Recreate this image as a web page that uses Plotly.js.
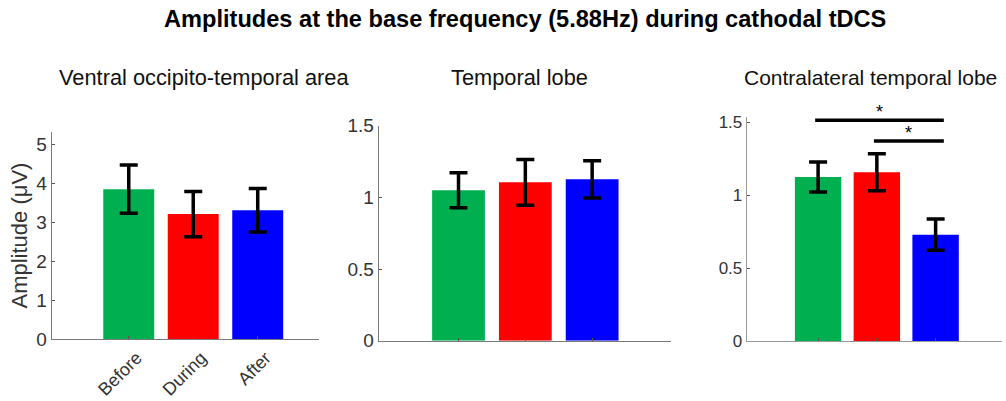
<!DOCTYPE html>
<html>
<head>
<meta charset="utf-8">
<script src="https://cdn.plot.ly/plotly-3.0.1.min.js"></script>
<style>html,body{margin:0;padding:0;background:#fff}#chart{width:1006px;height:401px}</style>
</head>
<body>
<div id="chart"></div>
<script>
// ---- data ----
var categories = ["Before", "During", "After"];
var barColors = ["#00b050", "#ff0000", "#0000ff"];
var panelTitles = ["Ventral occipito-temporal area", "Temporal lobe", "Contralateral temporal lobe"];
var ventralValues = [3.85, 3.21, 3.31];
var ventralErrors = [0.62, 0.58, 0.56];
var temporalValues = [1.05, 1.105, 1.126];
var temporalErrors = [0.122, 0.16, 0.13];
var contraValues = [1.125, 1.157, 0.729];
var contraErrors = [0.103, 0.127, 0.107];
// significance brackets (panel 3): [from category index, to category index, y level]
var sigFrom = [0, 1];
var sigTo = [2, 2];
var sigLevel = [1.514, 1.372];
var sigLabel = ["*", "*"];
var yTitle = "Amplitude (μV)";
var mainTitle = "Amplitudes at the base frequency (5.88Hz) during cathodal tDCS";

var FONT = "Arial, 'Liberation Sans', sans-serif";
var W = 1006, H = 401;
function px(x) { return x / W; }
function py(y) { return 1 - y / H; }

function barTrace(vals, errs, xa, ya) {
  return {
    type: "bar",
    x: [0, 1, 2],
    y: vals,
    width: 0.79,
    marker: { color: barColors, line: { width: 0 } },
    error_y: { type: "data", array: errs, visible: true, color: "#000", thickness: 3.5, width: 9 },
    xaxis: xa, yaxis: ya,
    hoverinfo: "skip",
    showlegend: false
  };
}

var data = [
  barTrace(ventralValues, ventralErrors, "x", "y"),
  barTrace(temporalValues, temporalErrors, "x2", "y2"),
  barTrace(contraValues, contraErrors, "x3", "y3")
];

var axisCommon = {
  showgrid: false, zeroline: false, showline: true, linecolor: "#7a7a7a", linewidth: 1.3,
  ticks: "inside", ticklen: 3, tickcolor: "#555", fixedrange: true
};
function xax(domain, range, labels, anchor) {
  return Object.assign({}, axisCommon, {
    domain: domain, range: range, anchor: anchor,
    tickmode: "array", tickvals: [0, 1, 2], ticktext: labels ? categories : ["", "", ""],
    showticklabels: !!labels, tickangle: -45, ticklabelshift: 8,
    tickfont: { family: FONT, size: 18, color: "#333" }
  });
}
function yax(domain, range, tickvals, ticktext, anchor, fs) {
  return Object.assign({}, axisCommon, {
    domain: domain, range: range, anchor: anchor,
    tickmode: "array", tickvals: tickvals, ticktext: ticktext,
    tickfont: { family: FONT, size: fs, color: "#333" }
  });
}

var layout = {
  width: W, height: H,
  margin: { l: 0, r: 0, t: 0, b: 0 },
  paper_bgcolor: "#fff", plot_bgcolor: "rgba(0,0,0,0)",
  xaxis: xax([px(52), px(319)], [-1.19, 2.95], true, "y"),
  yaxis: yax([py(339), py(132)], [0, 5.32], [0, 1, 2, 3, 4, 5], ["0", "1", "2", "3", "4", "5"], "x", 19),
  xaxis2: xax([px(379), px(671)], [-1.19, 3.18], false, "y2"),
  yaxis2: yax([py(340.7), py(125.7)], [0, 1.5], [0, 0.5, 1, 1.5], ["0", "0.5", "1", "1.5"], "x2", 19),
  xaxis3: Object.assign(xax([px(747), px(1002)], [-1.21, 3.13], false, "y3"), { linecolor: "#999" }),
  yaxis3: Object.assign(yax([py(341), py(116.7)], [0, 1.538], [0, 0.5, 1, 1.5], ["0", "0.5", "1", "1.5"], "x3", 17), { linecolor: "#999" }),
  shapes: [],
  annotations: [
    { text: "<b>" + mainTitle + "</b>", xref: "paper", yref: "paper", x: px(525), y: py(19),
      xanchor: "center", yanchor: "middle", showarrow: false, font: { family: FONT, size: 23.6, color: "#000" } },
    { text: panelTitles[0], xref: "paper", yref: "paper", x: px(204), y: py(77),
      xanchor: "center", yanchor: "middle", showarrow: false, font: { family: FONT, size: 21.8, color: "#111" } },
    { text: panelTitles[1], xref: "paper", yref: "paper", x: px(519), y: py(77),
      xanchor: "center", yanchor: "middle", showarrow: false, font: { family: FONT, size: 21.8, color: "#111" } },
    { text: panelTitles[2], xref: "paper", yref: "paper", x: px(870), y: py(77),
      xanchor: "center", yanchor: "middle", showarrow: false, font: { family: FONT, size: 21, color: "#111" } },
    { text: yTitle, xref: "paper", yref: "paper", x: px(18.5), y: py(236), textangle: -90,
      xanchor: "center", yanchor: "middle", showarrow: false, font: { family: FONT, size: 22, color: "#333" } }
  ]
};

for (var i = 0; i < sigFrom.length; i++) {
  var x0 = sigFrom[i] - 0.05, x1 = sigTo[i] + 0.14;
  layout.shapes.push({ type: "line", xref: "x3", yref: "y3", x0: x0, x1: x1, y0: sigLevel[i], y1: sigLevel[i],
    line: { color: "#000", width: 3.5 } });
  layout.annotations.push({ text: sigLabel[i], xref: "x3", yref: "y3", x: (x0 + x1) / 2, y: sigLevel[i],
    yanchor: "bottom", showarrow: false, yshift: -4, font: { family: FONT, size: 18, color: "#000" } });
}

Plotly.newPlot("chart", data, layout, { displayModeBar: false, staticPlot: true });
</script>
</body>
</html>
